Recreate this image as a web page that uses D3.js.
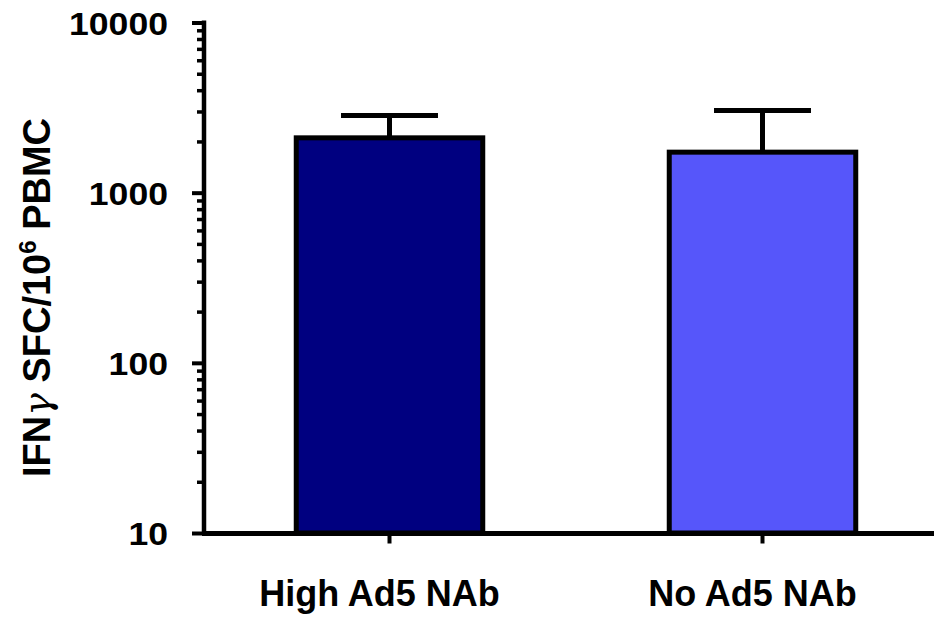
<!DOCTYPE html>
<html>
<head>
<meta charset="utf-8">
<script src="https://cdn.jsdelivr.net/npm/d3@7/dist/d3.min.js"></script>
<style>
  html, body { margin: 0; padding: 0; background: #fff; }
  svg { display: block; font-family: "Liberation Sans", Arial, sans-serif; }
</style>
</head>
<body>
<svg id="chart" width="934" height="618"></svg>
<script>
const categories = ["High Ad5 NAb", "No Ad5 NAb"];
const means = [2100, 1730];
const upperErrors = [2840, 3040];
const barColors = ["#000080", "#5656fa"];
const majorTicks = [10, 100, 1000, 10000];
const majorTickLabels = ["10", "100", "1000", "10000"];
const minorTicks = [20,30,40,50,60,70,80,90,200,300,400,500,600,700,800,900,2000,3000,4000,5000,6000,7000,8000,9000];

const svg = d3.select("#chart");

const x = d3.scaleBand().domain(categories).range([203, 949]).paddingInner(0.5).paddingOuter(0.25);
const y = d3.scaleLog().domain([10, 10000]).range([533, 22.5]);

// bars
svg.append("g").selectAll("rect").data(categories).join("rect")
  .attr("x", d => x(d))
  .attr("width", x.bandwidth())
  .attr("y", (d, i) => y(means[i]))
  .attr("height", (d, i) => y(10) - y(means[i]))
  .attr("fill", (d, i) => barColors[i])
  .attr("stroke", "#000")
  .attr("stroke-width", 5);

// error bars
const eg = svg.append("g").attr("stroke", "#000").attr("stroke-width", 5);
categories.forEach((c, i) => {
  const cx = x(c) + x.bandwidth() / 2;
  const half = x.bandwidth() * 0.26;
  eg.append("line").attr("x1", cx).attr("x2", cx).attr("y1", y(means[i])).attr("y2", y(upperErrors[i]));
  eg.append("line").attr("x1", cx - half).attr("x2", cx + half).attr("y1", y(upperErrors[i])).attr("y2", y(upperErrors[i]));
});

// y axis minor ticks
const yMinor = svg.append("g").attr("transform", "translate(204,0)")
  .call(d3.axisLeft(y).tickValues(minorTicks).tickSize(7).tickFormat(""));
yMinor.select(".domain").remove();
yMinor.selectAll(".tick line").attr("stroke", "#000").attr("stroke-width", 3.5);

// y axis major
const yMajor = svg.append("g").attr("transform", "translate(204,0)")
  .call(d3.axisLeft(y).tickValues(majorTicks).tickSize(12).tickSizeOuter(0)
    .tickFormat((d, i) => majorTickLabels[i]).tickPadding(24));
yMajor.select(".domain").attr("stroke", "#000").attr("stroke-width", 4.5).attr("d", `M0,${y(10000) - 2}V${y(10)}`);
yMajor.selectAll(".tick line").attr("stroke", "#000").attr("stroke-width", 4);
yMajor.selectAll(".tick text")
  .attr("font-family", "'Liberation Sans', Arial, sans-serif")
  .attr("font-weight", "bold")
  .attr("font-size", 31)
  .attr("fill", "#000")
  .attr("dy", "0.38em")
  .attr("text-anchor", "start")
  .attr("x", function() { return -36 - this.textContent.length * 19.8; })
  .attr("textLength", function() { return this.textContent.length * 19.8; })
  .attr("lengthAdjust", "spacingAndGlyphs");

// x axis
const xAxis = svg.append("g").attr("transform", "translate(0,533.5)")
  .call(d3.axisBottom(x).tickSize(10).tickSizeOuter(0).tickPadding(37));
xAxis.select(".domain").attr("stroke", "#000").attr("stroke-width", 5).attr("d", "M202,0H949");
xAxis.selectAll(".tick line").attr("stroke", "#000").attr("stroke-width", 4);
xAxis.selectAll(".tick text")
  .attr("font-family", "'Liberation Sans', Arial, sans-serif")
  .attr("font-weight", "bold")
  .attr("font-size", 36)
  .attr("fill", "#000")
  .attr("dx", -10);

// y title
const title = svg.append("text")
  .attr("transform", "translate(50,297.5) rotate(-90)")
  .attr("text-anchor", "middle")
  .attr("font-weight", "bold")
  .attr("font-size", 38)
  .attr("fill", "#000");
title.append("tspan").text("IFN");
title.append("tspan").attr("font-weight", "normal").attr("font-family", "'DejaVu Serif', serif").attr("font-style", "italic").text("γ");
title.append("tspan").text(" SFC/10");
title.append("tspan").attr("font-size", 24).attr("dy", -14).text("6");
title.append("tspan").attr("dy", 14).text(" PBMC");
</script>
</body>
</html>
